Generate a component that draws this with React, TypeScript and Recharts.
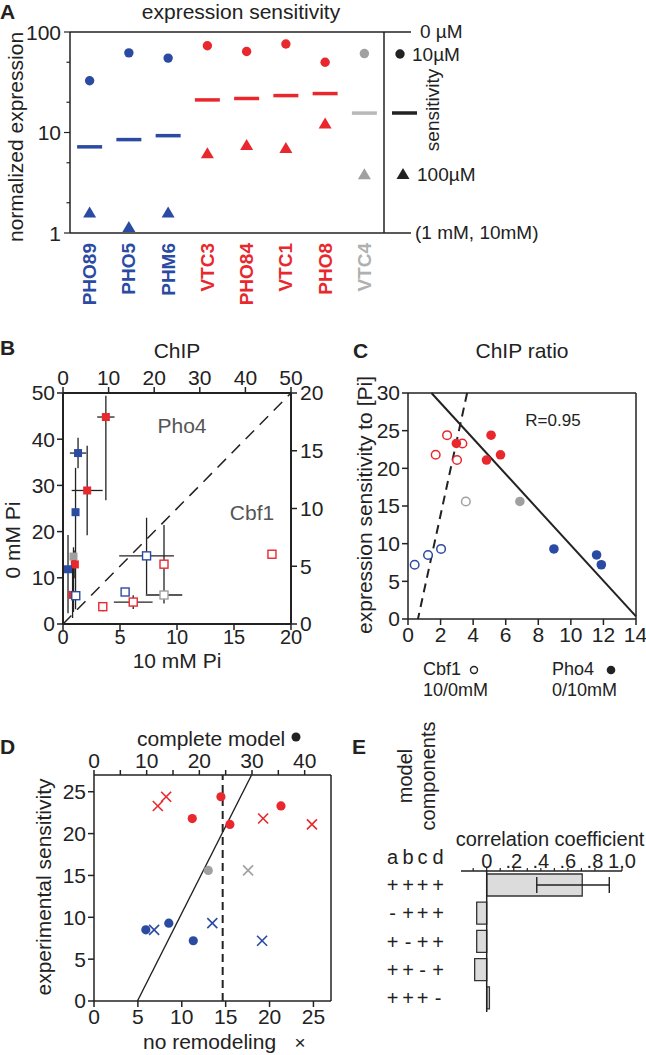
import React from 'react';
import {
  Bar,
  BarChart,
  ErrorBar,
  ReferenceLine,
  Scatter,
  ScatterChart,
  XAxis,
  YAxis,
} from 'recharts';

const FONT = '"Liberation Sans", Arial, Helvetica, sans-serif';
const INK = '#222';
const BLUE = '#2b4ba3';
const RED = '#e8282d';
const GRAY = '#a0a0a0';
const COLORS: Record<string, string> = { blue: BLUE, red: RED, gray: GRAY };
const LABEL_COLORS: Record<string, string> = { blue: BLUE, red: RED, gray: '#b0b0b0' };

// ---- A: expression sensitivity ----
const genes = ['PHO89', 'PHO5', 'PHM6', 'VTC3', 'PHO84', 'VTC1', 'PHO8', 'VTC4'];
const geneGroup = ['blue', 'blue', 'blue', 'red', 'red', 'red', 'red', 'gray'];
const expr10uM = [32.7, 62, 55, 73, 64, 76, 50, 61];
const expr100uM = [1.6, 1.15, 1.6, 6.2, 7.5, 7.0, 12.3, 3.84];
const sensitivity = [7.2, 8.5, 9.3, 21.1, 21.8, 23.3, 24.4, 15.6];
const logTicks = [1, 2, 3, 4, 5, 6, 7, 8, 9, 10, 20, 30, 40, 50, 60, 70, 80, 90, 100];
const geneIdx = [0, 1, 2, 3, 4, 5, 6, 7];

// ---- B: ChIP ----
const pho4Group = ['red', 'blue', 'red', 'blue', 'gray', 'red', 'blue', 'red'];
const pho4At10 = [9.4, 3.3, 5.3, 2.75, 2.3, 2.6, 1.1, 2.1];
const pho4At0 = [44.8, 37.0, 28.9, 24.2, 14.6, 12.9, 11.85, 6.3];
const pho4Err10 = [1.9, 1.8, 3.4, 0, 0, 0, 0.8, 0];
const pho4Err0: (number | number[])[] = [[18, 4.6], 3.3, 9.7, [21, 9.6], [12, 2], [3, 3], [9.5, 7.4], [5, 9]];
const cbf1Group = ['blue', 'red', 'blue', 'red', 'blue', 'red', 'gray', 'red'];
const cbf1At10 = [1.12, 3.49, 5.45, 6.16, 7.33, 8.86, 8.86, 18.33];
const cbf1At0 = [2.45, 1.5, 2.77, 1.9, 5.9, 5.18, 2.51, 6.04];
const cbf1ErrX = [0, 0, 0.3, 1.7, 2.4, 0, 1.6, 0];
const cbf1ErrY = [0, 0.4, 0.3, 0.6, 3.3, 3.4, 0, 0.3];

// ---- C: ChIP ratio ----
const cbf1Ratio = [0.41, 1.23, 2.03, 3.01, 1.7, 3.34, 2.4, 3.55];
const pho4Ratio = [11.87, 11.58, 8.96, 4.82, 5.68, 2.97, 5.1, 6.87];

// ---- D: model ----
const completeModel = [18.85, 9.84, 14.2, 25.8, 18.66, 35.5, 24.1, 21.7];
const noRemodeling = [19.15, 6.85, 13.48, 24.83, 19.27, 7.27, 8.22, 17.55];

// ---- E: model components ----
const componentSets = ['++++', '-+++', '+-++', '++-+', '+++-'];
const corrCoef = [0.706, -0.074, -0.074, -0.089, 0.02];
const corrErr: (number | number[])[] = [[0.336, 0.2], 0, 0, 0, 0];
const corrTicks = [-0.1, 0, 0.1, 0.2, 0.3, 0.4, 0.5, 0.6, 0.7, 0.8, 0.9, 1.0];
const corrLabels: Record<string, string> = { '0': '0', '0.2': '.2', '0.4': '.4', '0.6': '.6', '0.8': '.8', '1': '1.0' };

const axisLine = { stroke: INK, strokeWidth: 1.5 };
const tickLine = { stroke: INK, strokeWidth: 1.5 };
const tickText = { fontSize: 21, fill: INK };

const LogTick = (props: any) => {
  const { y, payload } = props;
  const v = payload.value;
  const major = v === 1 || v === 10 || v === 100;
  return (
    <g>
      <line x1={70 - (major ? 6 : 3.5)} x2={70} y1={y} y2={y} stroke={INK} strokeWidth={1.2} />
      {major && (
        <text x={61} y={y} textAnchor="end" dominantBaseline="central" fontSize={21} fill={INK}>
          {v}
        </text>
      )}
    </g>
  );
};

const GeneTick = (props: any) => {
  const { x, payload } = props;
  const i = payload.value;
  if (genes[i] == null) return null;
  return (
    <text
      x={x}
      y={243}
      transform={`rotate(-90 ${x} 243)`}
      textAnchor="end"
      dominantBaseline="central"
      fontSize={19}
      fontWeight="bold"
      fill={LABEL_COLORS[geneGroup[i]]}
    >
      {genes[i]}
    </text>
  );
};

const comboCols = [62.5, 78, 92.5, 108];
const ComboTick = (props: any) => {
  const { y, payload } = props;
  const s: string = payload.value;
  return (
    <g>
      {s.split('').map((ch, k) => (
        <text key={k} x={comboCols[k]} y={y} textAnchor="middle" dominantBaseline="central" fontSize={20} fill={INK}>
          {ch}
        </text>
      ))}
    </g>
  );
};

const circle = (r: number) => (p: any) => <circle cx={p.cx} cy={p.cy} r={r} fill={COLORS[p.payload.g]} />;
const ring = (p: any) => <circle cx={p.cx} cy={p.cy} r={4.3} fill="#fff" stroke={COLORS[p.payload.g]} strokeWidth={1.5} />;
const dash = (p: any) => (
  <line x1={p.cx - 12.5} x2={p.cx + 12.5} y1={p.cy} y2={p.cy} strokeWidth={3.5}
    stroke={p.payload.g === 'gray' ? '#b8b8b8' : COLORS[p.payload.g]} />
);
const triangle = (p: any) => (
  <polygon points={`${p.cx},${p.cy - 6} ${p.cx - 6.5},${p.cy + 5} ${p.cx + 6.5},${p.cy + 5}`} fill={COLORS[p.payload.g]} />
);
const square = (p: any) => <rect x={p.cx - 4} y={p.cy - 4} width={8} height={8} fill={COLORS[p.payload.g]} />;
const openSquare = (p: any) => (
  <rect x={p.cx - 4} y={p.cy - 4} width={8} height={8} fill="#fff" stroke={COLORS[p.payload.g]} strokeWidth={1.4} />
);
const cross = (p: any) => (
  <g stroke={COLORS[p.payload.g]} strokeWidth={1.6}>
    <line x1={p.cx - 5} y1={p.cy - 5} x2={p.cx + 5} y2={p.cy + 5} />
    <line x1={p.cx - 5} y1={p.cy + 5} x2={p.cx + 5} y2={p.cy - 5} />
  </g>
);

function PanelA() {
  const hi = geneIdx.map((i) => ({ x: i, y: expr10uM[i], g: geneGroup[i] }));
  const mid = geneIdx.map((i) => ({ x: i, y: sensitivity[i], g: geneGroup[i] }));
  const lo = geneIdx.map((i) => ({ x: i, y: expr100uM[i], g: geneGroup[i] }));
  return (
    <ScatterChart width={450} height={310} margin={{ top: 0, right: 0, bottom: 0, left: 0 }}>
      <XAxis type="number" dataKey="x" domain={[-0.5, 7.5]} ticks={geneIdx} tick={<GeneTick />}
        tickLine={false} axisLine={axisLine} height={77} allowDataOverflow />
      <XAxis xAxisId="top" orientation="top" type="number" domain={[0, 1]} tick={false} tickLine={false}
        axisLine={axisLine} height={32} />
      <YAxis type="number" dataKey="y" scale="log" domain={[1, 100]} ticks={logTicks} tick={<LogTick />}
        tickLine={false} axisLine={axisLine} width={70} allowDataOverflow />
      <YAxis yAxisId="r" orientation="right" type="number" domain={[0, 1]} tick={false} tickLine={false}
        axisLine={axisLine} width={66} />
      <Scatter data={hi} shape={circle(4.7)} isAnimationActive={false} />
      <Scatter data={mid} shape={dash} isAnimationActive={false} />
      <Scatter data={lo} shape={triangle} isAnimationActive={false} />
    </ScatterChart>
  );
}

function PanelB() {
  const pho4 = pho4At10.map((x, i) => ({ x, y: pho4At0[i], ex: pho4Err10[i], ey: pho4Err0[i], g: pho4Group[i] }));
  const cbf1 = cbf1At10.map((x, i) => ({ x, y: cbf1At0[i], ex: cbf1ErrX[i], ey: cbf1ErrY[i], g: cbf1Group[i] }));
  return (
    <ScatterChart width={330} height={340} margin={{ top: 0, right: 0, bottom: 0, left: 0 }}>
      <XAxis xAxisId="top" orientation="top" type="number" dataKey="x" domain={[0, 50]} ticks={[0, 10, 20, 30, 40, 50]}
        height={63} axisLine={{ stroke: INK, strokeWidth: 2 }} tickLine={tickLine} tick={tickText} allowDataOverflow />
      <XAxis xAxisId="bot" type="number" dataKey="x" domain={[0, 20]} ticks={[0, 5, 10, 15, 20]}
        height={46} axisLine={{ stroke: INK, strokeWidth: 2 }} tickLine={tickLine} tickMargin={0}
        tick={{ fontSize: 20, fill: INK }} allowDataOverflow />
      <YAxis yAxisId="left" type="number" dataKey="y" domain={[0, 50]} ticks={[0, 10, 20, 30, 40, 50]}
        width={63} axisLine={{ stroke: INK, strokeWidth: 2 }} tickLine={tickLine} tick={tickText} allowDataOverflow />
      <YAxis yAxisId="right" orientation="right" type="number" dataKey="y" domain={[0, 20]} ticks={[0, 5, 10, 15, 20]}
        width={39} axisLine={{ stroke: INK, strokeWidth: 2 }} tickLine={tickLine} tickMargin={3} tick={tickText}
        allowDataOverflow />
      <ReferenceLine xAxisId="bot" yAxisId="right" segment={[{ x: 0, y: 0 }, { x: 20, y: 20 }]}
        stroke={INK} strokeWidth={1.5} strokeDasharray="12 8" />
      <Scatter data={pho4} xAxisId="top" yAxisId="left" shape={square} isAnimationActive={false}>
        <ErrorBar dataKey="ex" direction="x" width={0} stroke={INK} strokeWidth={1.3} />
        <ErrorBar dataKey="ey" direction="y" width={0} stroke={INK} strokeWidth={1.3} />
      </Scatter>
      <Scatter data={cbf1} xAxisId="bot" yAxisId="right" shape={openSquare} isAnimationActive={false}>
        <ErrorBar dataKey="ex" direction="x" width={0} stroke={INK} strokeWidth={1.3} />
        <ErrorBar dataKey="ey" direction="y" width={0} stroke={INK} strokeWidth={1.3} />
      </Scatter>
    </ScatterChart>
  );
}

function PanelC() {
  const open = cbf1Ratio.map((x, i) => ({ x, y: sensitivity[i], g: geneGroup[i] }));
  const filled = pho4Ratio.map((x, i) => ({ x, y: sensitivity[i], g: geneGroup[i] }));
  return (
    <ScatterChart width={316} height={330} margin={{ top: 0, right: 0, bottom: 0, left: 0 }}>
      <XAxis type="number" dataKey="x" domain={[0, 14]} ticks={[0, 2, 4, 6, 8, 10, 12, 14]} height={41}
        axisLine={axisLine} tickLine={tickLine} tick={tickText} allowDataOverflow />
      <XAxis xAxisId="top" orientation="top" type="number" domain={[0, 1]} height={63} tick={false} tickLine={false}
        axisLine={axisLine} />
      <YAxis type="number" dataKey="y" domain={[0, 30]} ticks={[0, 5, 10, 15, 20, 25, 30]} width={78}
        axisLine={axisLine} tickLine={tickLine} tick={tickText} allowDataOverflow />
      <YAxis yAxisId="r" orientation="right" type="number" domain={[0, 1]} width={10} tick={false} tickLine={false}
        axisLine={axisLine} />
      <ReferenceLine segment={[{ x: 1.44, y: 30 }, { x: 14, y: 0.35 }]} stroke={INK} strokeWidth={2} />
      <ReferenceLine segment={[{ x: 3.63, y: 30 }, { x: 0.61, y: 0 }]} stroke={INK} strokeWidth={2} strokeDasharray="9 6" />
      <Scatter data={open} shape={ring} isAnimationActive={false} />
      <Scatter data={filled} shape={circle(4.8)} isAnimationActive={false} />
    </ScatterChart>
  );
}

function PanelD() {
  const full = completeModel.map((x, i) => ({ x, y: sensitivity[i], g: geneGroup[i] }));
  const noRemod = noRemodeling.map((x, i) => ({ x, y: sensitivity[i], g: geneGroup[i] }));
  return (
    <ScatterChart width={340} height={355} margin={{ top: 0, right: 0, bottom: 0, left: 0 }}>
      <XAxis xAxisId="t" orientation="top" type="number" dataKey="x" domain={[0, 45]}
        ticks={[0, 5, 10, 15, 20, 25, 30, 35, 40]} tickFormatter={(v: number) => (v % 10 === 0 ? String(v) : '')}
        height={75} axisLine={axisLine} tickLine={tickLine} tickSize={5} tick={tickText} allowDataOverflow />
      <XAxis xAxisId="b" type="number" dataKey="x" domain={[0, 27]} ticks={[0, 5, 10, 15, 20, 25]}
        height={54} axisLine={axisLine} tickLine={tickLine} tick={tickText} allowDataOverflow />
      <YAxis type="number" dataKey="y" domain={[0, 27]} ticks={[0, 5, 10, 15, 20, 25]} width={94}
        axisLine={axisLine} tickLine={tickLine} tick={tickText} allowDataOverflow />
      <YAxis yAxisId="r" orientation="right" type="number" domain={[0, 1]} width={9} tick={false} tickLine={false}
        axisLine={axisLine} />
      <ReferenceLine xAxisId="b" segment={[{ x: 4.95, y: 0 }, { x: 17.95, y: 27 }]} stroke={INK} strokeWidth={1.4} />
      <ReferenceLine xAxisId="b" x={14.66} stroke={INK} strokeWidth={2} strokeDasharray="8 5" />
      <Scatter data={full} xAxisId="t" shape={circle(4.6)} isAnimationActive={false} />
      <Scatter data={noRemod} xAxisId="b" shape={cross} isAnimationActive={false} />
    </ScatterChart>
  );
}

function PanelE() {
  const data = componentSets.map((s, i) => ({ s, r: corrCoef[i], err: corrErr[i] }));
  return (
    <BarChart layout="vertical" width={316} height={200} data={data} barSize={22}
      margin={{ top: 0, right: 24, bottom: 8, left: 58 }}>
      <XAxis type="number" orientation="top" domain={[-0.19, 1]} ticks={corrTicks}
        tickFormatter={(v: number) => corrLabels[String(Math.round(v * 10) / 10)] ?? ''}
        height={51} tickSize={3} tickMargin={0} axisLine={axisLine} tickLine={{ stroke: INK, strokeWidth: 1.2 }}
        tick={{ fontSize: 20, fill: INK }} allowDataOverflow />
      <YAxis type="category" dataKey="s" width={73} tick={<ComboTick />} axisLine={false} tickLine={false} />
      <ReferenceLine x={0} stroke={INK} strokeWidth={1.5} />
      <Bar dataKey="r" fill="#dcdcdc" stroke="#333" strokeWidth={1.3} isAnimationActive={false}>
        <ErrorBar dataKey="err" direction="x" width={8} stroke={INK} strokeWidth={1.4} />
      </Bar>
    </BarChart>
  );
}

const Txt = (p: any) => <text fontSize={21} fill={INK} dominantBaseline="central" {...p} />;
const VTxt = ({ x, y, children, ...rest }: any) => (
  <text x={x} y={y} transform={`rotate(-90 ${x} ${y})`} textAnchor="middle" dominantBaseline="central"
    fontSize={21} fill={INK} {...rest}>
    {children}
  </text>
);

function Overlay() {
  return (
    <svg width={646} height={1055} style={{ position: 'absolute', left: 0, top: 0, pointerEvents: 'none' }}>
      {/* A */}
      <Txt x={0} y={11} fontWeight="bold">A</Txt>
      <Txt x={241} y={11} textAnchor="middle">expression sensitivity</Txt>
      <VTxt x={15} y={137}>normalized expression</VTxt>
      <line x1={384} x2={411} y1={32} y2={32} stroke={INK} strokeWidth={1.5} />
      <line x1={384} x2={411} y1={233} y2={233} stroke={INK} strokeWidth={1.5} />
      <Txt x={420} y={31} fontSize={19}>0 µM</Txt>
      <circle cx={400} cy={54} r={4.7} fill={INK} />
      <Txt x={412} y={54} fontSize={19}>10µM</Txt>
      <VTxt x={432} y={110} fontSize={19}>sensitivity</VTxt>
      <line x1={392} x2={417} y1={113} y2={113} stroke={INK} strokeWidth={3.5} />
      <polygon points="403,168 396.5,179 409.5,179" fill={INK} />
      <Txt x={417} y={174} fontSize={19}>100µM</Txt>
      <Txt x={415} y={232} fontSize={19}>(1 mM, 10mM)</Txt>
      {/* B */}
      <Txt x={0} y={347} fontWeight="bold">B</Txt>
      <Txt x={177} y={350} textAnchor="middle">ChIP</Txt>
      <VTxt x={12} y={540}>0 mM Pi</VTxt>
      <Txt x={177} y={660} textAnchor="middle">10 mM Pi</Txt>
      <Txt x={182} y={425} textAnchor="middle" fill="#555">Pho4</Txt>
      <Txt x={252} y={512} textAnchor="middle" fill="#555">Cbf1</Txt>
      {/* C */}
      <Txt x={353} y={350} fontWeight="bold">C</Txt>
      <Txt x={522} y={350} textAnchor="middle">ChIP ratio</Txt>
      <VTxt x={364} y={505}>expression sensitivity to [Pi]</VTxt>
      <Txt x={553} y={420} textAnchor="middle" fontSize={17}>R=0.95</Txt>
      <Txt x={423} y={669} fontSize={18}>Cbf1</Txt>
      <circle cx={474} cy={670} r={3.5} fill="none" stroke={INK} strokeWidth={1.4} />
      <Txt x={423} y={690} fontSize={18}>10/0mM</Txt>
      <Txt x={552} y={669} fontSize={18}>Pho4</Txt>
      <circle cx={611} cy={670} r={4.3} fill={INK} />
      <Txt x={552} y={690} fontSize={18}>0/10mM</Txt>
      {/* D */}
      <Txt x={0} y={746} fontWeight="bold">D</Txt>
      <Txt x={137} y={738}>complete model</Txt>
      <circle cx={296} cy={737} r={4.5} fill={INK} />
      <VTxt x={43} y={887}>experimental sensitivity</VTxt>
      <Txt x={143} y={1041}>no remodeling</Txt>
      <Txt x={300} y={1042} textAnchor="middle" fontSize={19}>×</Txt>
      {/* E */}
      <Txt x={352} y={746} fontWeight="bold">E</Txt>
      <VTxt x={405} y={776} fontSize={20}>model</VTxt>
      <VTxt x={428} y={776} fontSize={20}>components</VTxt>
      <Txt x={550} y={839} textAnchor="middle" fontSize={20}>correlation coefficient</Txt>
      {['a', 'b', 'c', 'd'].map((c, k) => (
        <Txt key={c} x={330 + comboCols[k]} y={857} textAnchor="middle" fontSize={20}>{c}</Txt>
      ))}
    </svg>
  );
}

export default function App() {
  return (
    <div style={{ position: 'absolute', left: 0, top: 0, width: 646, height: 1055, background: '#fff', fontFamily: FONT }}>
      <div style={{ position: 'absolute', left: 0, top: 0 }}><PanelA /></div>
      <div style={{ position: 'absolute', left: 0, top: 330 }}><PanelB /></div>
      <div style={{ position: 'absolute', left: 330, top: 330 }}><PanelC /></div>
      <div style={{ position: 'absolute', left: 0, top: 700 }}><PanelD /></div>
      <div style={{ position: 'absolute', left: 330, top: 820 }}><PanelE /></div>
      <Overlay />
    </div>
  );
}
